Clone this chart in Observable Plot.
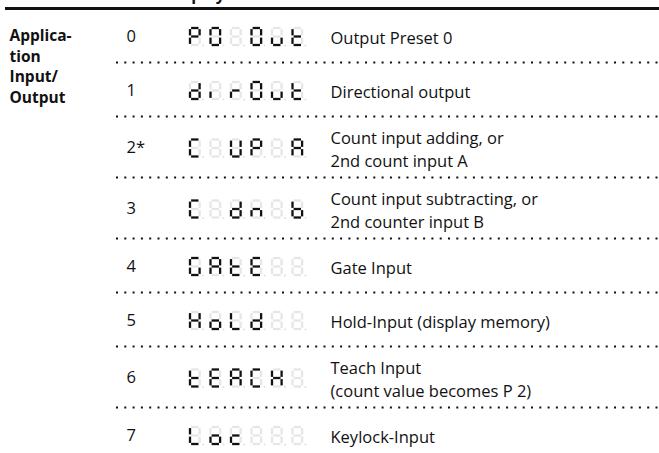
<!DOCTYPE html>
<html><head><meta charset="utf-8">
<script src="https://cdn.jsdelivr.net/npm/d3@7"></script>
<script src="https://cdn.jsdelivr.net/npm/@observablehq/plot@0.6"></script>
<style>body{margin:0;background:#fff}</style>
</head><body><div id="chart"></div>
<script>
// ---- data ----
const headerLabel = "Display";
const groupLabel = ["Applica-", "tion", "Input/", "Output"];
const codes = ["0", "1", "2*", "3", "4", "5", "6", "7"];
const displays = [
  ["P", "0", " ", "O", "u", "t"],
  ["d", "i", "r", "O", "u", "t"],
  ["C", " ", "U", "P", " ", "A"],
  ["C", " ", "d", "n", " ", "b"],
  ["G", "A", "t", "E", " ", " "],
  ["H", "o", "L", "d", " ", " "],
  ["t", "E", "A", "C", "H", " "],
  ["L", "o", "c", " ", " ", " "]
];
const descriptions = [
  ["Output Preset 0"],
  ["Directional output"],
  ["Count input adding, or", "2nd count input A"],
  ["Count input subtracting, or", "2nd counter input B"],
  ["Gate Input"],
  ["Hold-Input (display memory)"],
  ["Teach Input", "(count value becomes P 2)"],
  ["Keylock-Input"]
];

// seven-segment glyph encoding (segments a..g)
const glyphs = {
  "P": "abefg", "0": "abcdef", "O": "abcdef", " ": "", "u": "cde", "t": "defg",
  "d": "bcdeg", "i": "e", "r": "eg", "C": "adef", "U": "bcdef", "A": "abcefg",
  "n": "ceg", "b": "cdefg", "G": "acdef", "E": "adefg", "H": "bcefg",
  "o": "cdeg", "L": "def", "c": "deg"
};

// ---- layout ----
const font = "'Open Sans', sans-serif";
const fs = 16.5;
const top0 = 8;
const rowH = descriptions.map(d => d.length > 1 ? 61 : 54);
const bounds = [top0];
rowH.forEach(h => bounds.push(bounds[bounds.length - 1] + h));
const centers = rowH.map((h, i) => bounds[i] + h / 2 + 1);

const digitX0 = 189.5, pitch = 20.5, dw = 9.6, dh = 17, gap = 1.1;
const segs = [];
const dots = [];
displays.forEach((row, r) => {
  const cy = centers[r];
  row.forEach((ch, i) => {
    const l = digitX0 + i * pitch, R = l + dw, t = cy - dh / 2, b = cy + dh / 2, m = cy;
    const on = glyphs[ch] || "";
    const geom = {
      a: [l + gap, t, R - gap, t], b: [R, t + gap, R, m - gap], c: [R, m + gap, R, b - gap],
      d: [l + gap, b, R - gap, b], e: [l, m + gap, l, b - gap], f: [l, t + gap, l, m - gap],
      g: [l + gap, m, R - gap, m]
    };
    for (const k of "abcdefg") {
      const [x1, y1, x2, y2] = geom[k];
      segs.push({x1, y1, x2, y2, on: on.includes(k)});
    }
    dots.push({x: R + 3.4, y: b + 0.5});
  });
});

const labelLines = groupLabel.map((t, i) => ({t, y: 36 + i * 20.5}));

const chart = Plot.plot({
  width: 659, height: 453, margin: 0,
  x: {type: "identity"}, y: {type: "identity"},
  style: {fontFamily: font, background: "#fff"},
  marks: [
    Plot.text([headerLabel], {x: 166, y: -1, text: d => d, textAnchor: "start", lineAnchor: "bottom", fontSize: 16, fontWeight: 700, fill: "#111"}),
    Plot.ruleY([top0], {x1: 5, x2: 659, strokeWidth: 3, stroke: "#111"}),
    Plot.ruleY(bounds.slice(1, -1), {x1: 116, x2: 659, stroke: "#111", strokeWidth: 2, strokeDasharray: "2,6.3"}),
    Plot.text(labelLines, {x: 9, y: "y", text: "t", textAnchor: "start", fontSize: 15.5, fontWeight: 700, fill: "#111"}),
    Plot.text(codes, {x: 126, y: (d, i) => centers[i], text: d => d, textAnchor: "start", fontSize: fs, fill: "#111"}),
    Plot.dot(dots, {x: "x", y: "y", r: 1, fill: "#e0e0e0", stroke: null}),
    Plot.link(segs.filter(s => !s.on), {x1: "x1", y1: "y1", x2: "x2", y2: "y2", stroke: "#e6e6e6", strokeWidth: 2.3, strokeLinecap: "butt"}),
    Plot.link(segs.filter(s => s.on), {x1: "x1", y1: "y1", x2: "x2", y2: "y2", stroke: "#111", strokeWidth: 2.3, strokeLinecap: "butt"}),
    Plot.text(descriptions, {x: 330, y: (d, i) => centers[i], text: d => d.join("\n"), textAnchor: "start", lineHeight: 1.38, fontSize: fs, fill: "#111"})
  ]
});
document.getElementById("chart").append(chart);
</script>
</body></html>
